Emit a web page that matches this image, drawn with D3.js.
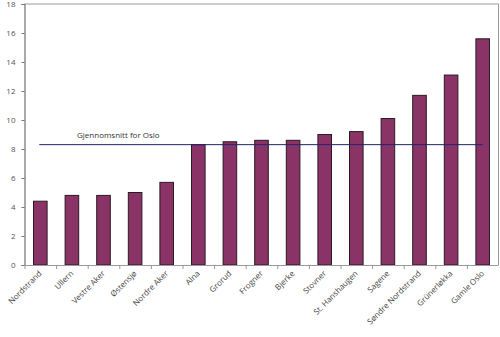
<!DOCTYPE html>
<html>
<head>
<meta charset="utf-8">
<script src="https://cdn.jsdelivr.net/npm/d3@7"></script>
<style>
  html, body { margin: 0; padding: 0; background: #fff; }
  svg { display: block; }
  text { font-family: "Open Sans", "DejaVu Sans", sans-serif; }
</style>
</head>
<body>
<svg id="chart" width="500" height="337"></svg>
<script>
// Bydeler i Oslo, sortert etter verdi
const districts = ["Nordstrand", "Ullern", "Vestre Aker", "Østensjø", "Nordre Aker", "Alna", "Grorud",
  "Frogner", "Bjerke", "Stovner", "St. Hanshaugen", "Sagene", "Søndre Nordstrand", "Grünerløkka", "Gamle Oslo"];
const values = [4.4, 4.8, 4.8, 5.0, 5.7, 8.3, 8.5, 8.6, 8.6, 9.0, 9.2, 10.1, 11.7, 13.1, 15.6];
const osloAverage = 8.3;
const averageLabel = "Gjennomsnitt for Oslo";
const yTicks = [0, 2, 4, 6, 8, 10, 12, 14, 16, 18];

const svg = d3.select("#chart");
const mLeft = 24.5, mRight = 498.5, mTop = 4, mBottom = 265;

const x = d3.scaleBand().domain(districts).range([mLeft, mRight]).paddingInner(0.57).paddingOuter(0.285);
const xTick = d3.scaleBand().domain(districts).range([mLeft, mRight]);
const y = d3.scaleLinear().domain([0, 18]).range([mBottom, mTop]);

// plot frame (top and right)
svg.append("path")
  .attr("d", `M${mLeft},${mTop}H${mRight}V${mBottom}`)
  .attr("fill", "none").attr("stroke", "#9a9a9a").attr("stroke-width", 1);

// bars
svg.append("g").selectAll("rect").data(values).join("rect")
  .attr("x", (d, i) => x(districts[i]))
  .attr("y", d => y(d))
  .attr("width", x.bandwidth())
  .attr("height", d => mBottom - y(d))
  .attr("fill", "#8a3366")
  .attr("stroke", "#2a1a22").attr("stroke-width", 1);

// y axis
const yAxis = svg.append("g").attr("transform", `translate(${mLeft},0)`)
  .call(d3.axisLeft(y).tickValues(yTicks).tickSize(3).tickPadding(6).tickFormat(d3.format("d")));
yAxis.select(".domain").attr("stroke", "#555");
yAxis.selectAll(".tick line").attr("stroke", "#777");
yAxis.selectAll("text").attr("font-size", 8).attr("fill", "#555");

// x axis with ticks on band boundaries
const xAxisG = svg.append("g");
xAxisG.append("line").attr("x1", mLeft).attr("x2", mRight).attr("y1", mBottom + 0.5).attr("y2", mBottom + 0.5)
  .attr("stroke", "#9a9a9a");
xAxisG.selectAll("line.tk").data(districts).join("line").attr("class", "tk")
  .attr("x1", d => xTick(d) + 0.5).attr("x2", d => xTick(d) + 0.5)
  .attr("y1", mBottom).attr("y2", mBottom + 4)
  .attr("stroke", "#9a9a9a");
xAxisG.selectAll("text").data(districts).join("text")
  .attr("transform", d => `translate(${xTick(d) + xTick.bandwidth() / 2 + 2},${mBottom + 9}) rotate(-45)`)
  .attr("text-anchor", "end")
  .attr("font-size", 8)
  .attr("fill", "#444")
  .text(d => d);

// Oslo average line
svg.append("line")
  .attr("x1", x(districts[0]) + x.bandwidth() / 2 - 1)
  .attr("x2", x(districts[districts.length - 1]) + x.bandwidth() / 2)
  .attr("y1", y(osloAverage)).attr("y2", y(osloAverage))
  .attr("stroke", "#22226e").attr("stroke-width", 1);
svg.append("text")
  .attr("x", 77).attr("y", y(osloAverage) - 7)
  .attr("font-size", 8).attr("fill", "#333")
  .text(averageLabel);
</script>
</body>
</html>
